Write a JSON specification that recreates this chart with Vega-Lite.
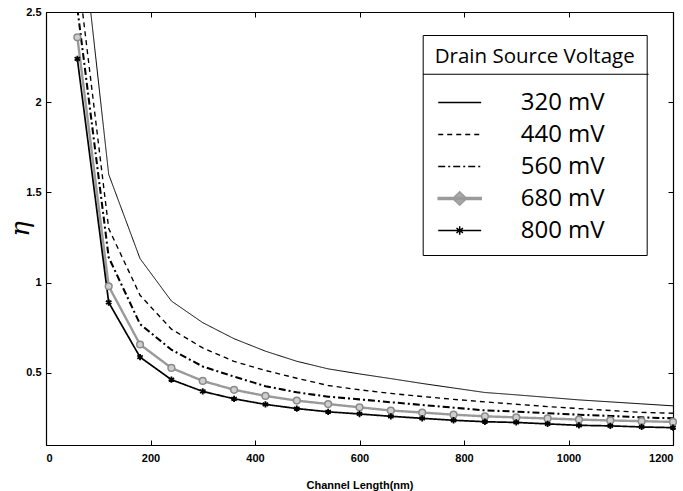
{
  "$schema": "https://vega.github.io/schema/vega-lite/v6.json",
  "width": 627,
  "height": 433,
  "autosize": {"type": "none"},
  "padding": {"left": 46, "top": 12, "right": 10, "bottom": 46},
  "background": "white",
  "datasets": {
    "eta": [
      {"L":60,"series":"320 mV","eta":3.17},{"L":120,"series":"320 mV","eta":1.6},{"L":180,"series":"320 mV","eta":1.133},{"L":240,"series":"320 mV","eta":0.898},{"L":300,"series":"320 mV","eta":0.778},{"L":360,"series":"320 mV","eta":0.689},{"L":420,"series":"320 mV","eta":0.62},{"L":480,"series":"320 mV","eta":0.564},{"L":540,"series":"320 mV","eta":0.522},{"L":600,"series":"320 mV","eta":0.494},{"L":660,"series":"320 mV","eta":0.468},{"L":720,"series":"320 mV","eta":0.441},{"L":780,"series":"320 mV","eta":0.416},{"L":840,"series":"320 mV","eta":0.391},{"L":900,"series":"320 mV","eta":0.378},{"L":960,"series":"320 mV","eta":0.364},{"L":1020,"series":"320 mV","eta":0.35},{"L":1080,"series":"320 mV","eta":0.339},{"L":1140,"series":"320 mV","eta":0.328},{"L":1200,"series":"320 mV","eta":0.317},
      {"L":60,"series":"440 mV","eta":2.74},{"L":120,"series":"440 mV","eta":1.3},{"L":180,"series":"440 mV","eta":0.93},{"L":240,"series":"440 mV","eta":0.742},{"L":300,"series":"440 mV","eta":0.638},{"L":360,"series":"440 mV","eta":0.563},{"L":420,"series":"440 mV","eta":0.513},{"L":480,"series":"440 mV","eta":0.47},{"L":540,"series":"440 mV","eta":0.43},{"L":600,"series":"440 mV","eta":0.406},{"L":660,"series":"440 mV","eta":0.386},{"L":720,"series":"440 mV","eta":0.369},{"L":780,"series":"440 mV","eta":0.353},{"L":840,"series":"440 mV","eta":0.339},{"L":900,"series":"440 mV","eta":0.326},{"L":960,"series":"440 mV","eta":0.313},{"L":1020,"series":"440 mV","eta":0.302},{"L":1080,"series":"440 mV","eta":0.291},{"L":1140,"series":"440 mV","eta":0.281},{"L":1200,"series":"440 mV","eta":0.276},
      {"L":60,"series":"560 mV","eta":2.52},{"L":120,"series":"560 mV","eta":1.14},{"L":180,"series":"560 mV","eta":0.77},{"L":240,"series":"560 mV","eta":0.628},{"L":300,"series":"560 mV","eta":0.535},{"L":360,"series":"560 mV","eta":0.479},{"L":420,"series":"560 mV","eta":0.426},{"L":480,"series":"560 mV","eta":0.392},{"L":540,"series":"560 mV","eta":0.368},{"L":600,"series":"560 mV","eta":0.353},{"L":660,"series":"560 mV","eta":0.337},{"L":720,"series":"560 mV","eta":0.322},{"L":780,"series":"560 mV","eta":0.307},{"L":840,"series":"560 mV","eta":0.292},{"L":900,"series":"560 mV","eta":0.285},{"L":960,"series":"560 mV","eta":0.276},{"L":1020,"series":"560 mV","eta":0.268},{"L":1080,"series":"560 mV","eta":0.261},{"L":1140,"series":"560 mV","eta":0.253},{"L":1200,"series":"560 mV","eta":0.248},
      {"L":60,"series":"680 mV","eta":2.36},{"L":120,"series":"680 mV","eta":0.98},{"L":180,"series":"680 mV","eta":0.657},{"L":240,"series":"680 mV","eta":0.527},{"L":300,"series":"680 mV","eta":0.455},{"L":360,"series":"680 mV","eta":0.406},{"L":420,"series":"680 mV","eta":0.372},{"L":480,"series":"680 mV","eta":0.346},{"L":540,"series":"680 mV","eta":0.327},{"L":600,"series":"680 mV","eta":0.309},{"L":660,"series":"680 mV","eta":0.291},{"L":720,"series":"680 mV","eta":0.28},{"L":780,"series":"680 mV","eta":0.268},{"L":840,"series":"680 mV","eta":0.259},{"L":900,"series":"680 mV","eta":0.253},{"L":960,"series":"680 mV","eta":0.247},{"L":1020,"series":"680 mV","eta":0.241},{"L":1080,"series":"680 mV","eta":0.236},{"L":1140,"series":"680 mV","eta":0.232},{"L":1200,"series":"680 mV","eta":0.228},
      {"L":60,"series":"800 mV","eta":2.24},{"L":120,"series":"800 mV","eta":0.89},{"L":180,"series":"800 mV","eta":0.587},{"L":240,"series":"800 mV","eta":0.462},{"L":300,"series":"800 mV","eta":0.397},{"L":360,"series":"800 mV","eta":0.356},{"L":420,"series":"800 mV","eta":0.325},{"L":480,"series":"800 mV","eta":0.302},{"L":540,"series":"800 mV","eta":0.284},{"L":600,"series":"800 mV","eta":0.272},{"L":660,"series":"800 mV","eta":0.259},{"L":720,"series":"800 mV","eta":0.248},{"L":780,"series":"800 mV","eta":0.237},{"L":840,"series":"800 mV","eta":0.229},{"L":900,"series":"800 mV","eta":0.225},{"L":960,"series":"800 mV","eta":0.217},{"L":1020,"series":"800 mV","eta":0.209},{"L":1080,"series":"800 mV","eta":0.206},{"L":1140,"series":"800 mV","eta":0.2},{"L":1200,"series":"800 mV","eta":0.196}
    ]
  },
  "data": {"name": "eta"},
  "layer": [
    {
      "mark": {"type": "line", "clip": true},
      "encoding": {
        "x": {"field": "L", "type": "quantitative", "scale": {"domain": [0, 1200], "nice": false},
          "axis": {"orient": "bottom", "values": [0,200,400,600,800,1000,1200], "format": "d", "title": "Channel Length(nm)", "titlePadding": 16, "labelPadding": 12}},
        "y": {"field": "eta", "type": "quantitative", "scale": {"domain": [0.1, 2.5], "nice": false, "zero": false},
          "axis": {"orient": "left", "values": [0.5,1,1.5,2,2.5], "format": "~g", "title": "η", "titleFont": "DejaVu Serif", "titleFontStyle": "italic", "titleFontWeight": "normal", "titleFontSize": 26, "titlePadding": -8, "labelPadding": 10}},
        "stroke": {"field": "series", "type": "nominal", "title": "Drain Source Voltage",
          "scale": {"domain": ["320 mV","440 mV","560 mV","680 mV","800 mV"], "range": ["black","black","black","#9a9a9a","black"]},
          "legend": {"orient": "none", "legendX": 376.7, "legendY": 23}},
        "strokeDash": {"field": "series", "type": "nominal", "title": "Drain Source Voltage",
          "scale": {"domain": ["320 mV","440 mV","560 mV","680 mV","800 mV"], "range": [[1,0],[5,4],[7,3,2,3],[1,0],[1,0]]},
          "legend": {"orient": "none", "legendX": 376.7, "legendY": 23}},
        "strokeWidth": {"field": "series", "type": "nominal",
          "scale": {"type": "point", "padding": 0, "domain": ["320 mV","440 mV","800 mV","560 mV","680 mV"], "range": [1, 2.4]},
          "legend": null},
        "order": {"field": "L", "type": "quantitative"}
      }
    },
    {
      "transform": [{"filter": "datum.series === '680 mV'"}],
      "mark": {"type": "point", "shape": "circle", "size": 45, "filled": false, "fill": "#cfcfcf", "stroke": "#8a8a8a", "strokeWidth": 1.5, "opacity": 1},
      "encoding": {
        "x": {"field": "L", "type": "quantitative", "axis": null},
        "y": {"field": "eta", "type": "quantitative", "axis": null}
      }
    },
    {
      "transform": [{"filter": "datum.series === '800 mV'"}],
      "mark": {"type": "point", "shape": "M0,-1L0,1M-0.87,-0.5L0.87,0.5M-0.87,0.5L0.87,-0.5", "size": 40, "filled": false, "stroke": "black", "strokeWidth": 1.8, "opacity": 1},
      "encoding": {
        "x": {"field": "L", "type": "quantitative", "axis": null},
        "y": {"field": "eta", "type": "quantitative", "axis": null}
      }
    },
    {
      "transform": [{"filter": "false"}],
      "mark": {"type": "point", "filled": true, "opacity": 1},
      "encoding": {
        "x": {"field": "L", "type": "quantitative",
          "axis": {"orient": "top", "values": [0,200,400,600,800,1000,1200], "labels": false, "title": null}},
        "y": {"field": "eta", "type": "quantitative",
          "axis": {"orient": "right", "values": [0.5,1,1.5,2,2.5], "labels": false, "title": null}},
        "shape": {"field": "series", "type": "nominal", "title": "Drain Source Voltage",
          "scale": {"domain": ["320 mV","440 mV","560 mV","680 mV","800 mV"], "range": [
            "M-0.79,0L2.79,0",
            "M-0.79,0L2.79,0",
            "M-0.79,0L2.79,0",
            "M-0.79,0L2.79,0M-0.79,-0.08L2.79,-0.08L2.79,0.08L-0.79,0.08ZM1,-0.55L1.58,0L1,0.55L0.42,0Z",
            "M-0.79,0L2.79,0M1,-0.35L1,0.35M0.73,-0.2L1.27,0.2M0.73,0.2L1.27,-0.2"]},
          "legend": {"orient": "none", "legendX": 376.7, "legendY": 23}},
        "fill": {"field": "series", "type": "nominal", "title": "Drain Source Voltage",
          "scale": {"domain": ["320 mV","440 mV","560 mV","680 mV","800 mV"], "range": ["transparent","transparent","transparent","#a8a8a8","black"]},
          "legend": {"orient": "none", "legendX": 376.7, "legendY": 23}}
      }
    },
    {
      "data": {"values": [{}]},
      "mark": {"type": "rule", "color": "black", "strokeWidth": 1.2},
      "encoding": {
        "x": {"datum": 721.4, "type": "quantitative", "axis": null},
        "x2": {"datum": 1153.4},
        "y": {"datum": 2.155, "type": "quantitative", "axis": null}
      }
    }
  ],
  "resolve": {"axis": {"x": "independent", "y": "independent"}},
  "config": {
    "view": {"stroke": "black", "strokeWidth": 1},
    "axis": {
      "grid": false,
      "domainColor": "black",
      "domainWidth": 1.2,
      "tickColor": "black",
      "tickSize": -5,
      "tickWidth": 1,
      "labelFont": "Liberation Sans",
      "labelFontWeight": "bold",
      "labelFontSize": 11,
      "labelColor": "black",
      "titleFont": "Liberation Sans",
      "titleFontWeight": "bold",
      "titleFontSize": 11,
      "titleColor": "black"
    },
    "legend": {
      "strokeColor": "black",
      "fillColor": "transparent",
      "padding": 12,
      "titleFont": "Open Sans",
      "titleFontSize": 20.5,
      "titleFontWeight": "normal",
      "titleColor": "black",
      "titlePadding": 22,
      "titleLimit": 400,
      "labelFont": "Open Sans",
      "labelFontSize": 24,
      "labelColor": "black",
      "labelOffset": 60,
      "labelLimit": 300,
      "symbolSize": 576,
      "symbolStrokeWidth": 1.5,
      "gridAlign": "all",
      "rowPadding": 7
    }
  }
}
